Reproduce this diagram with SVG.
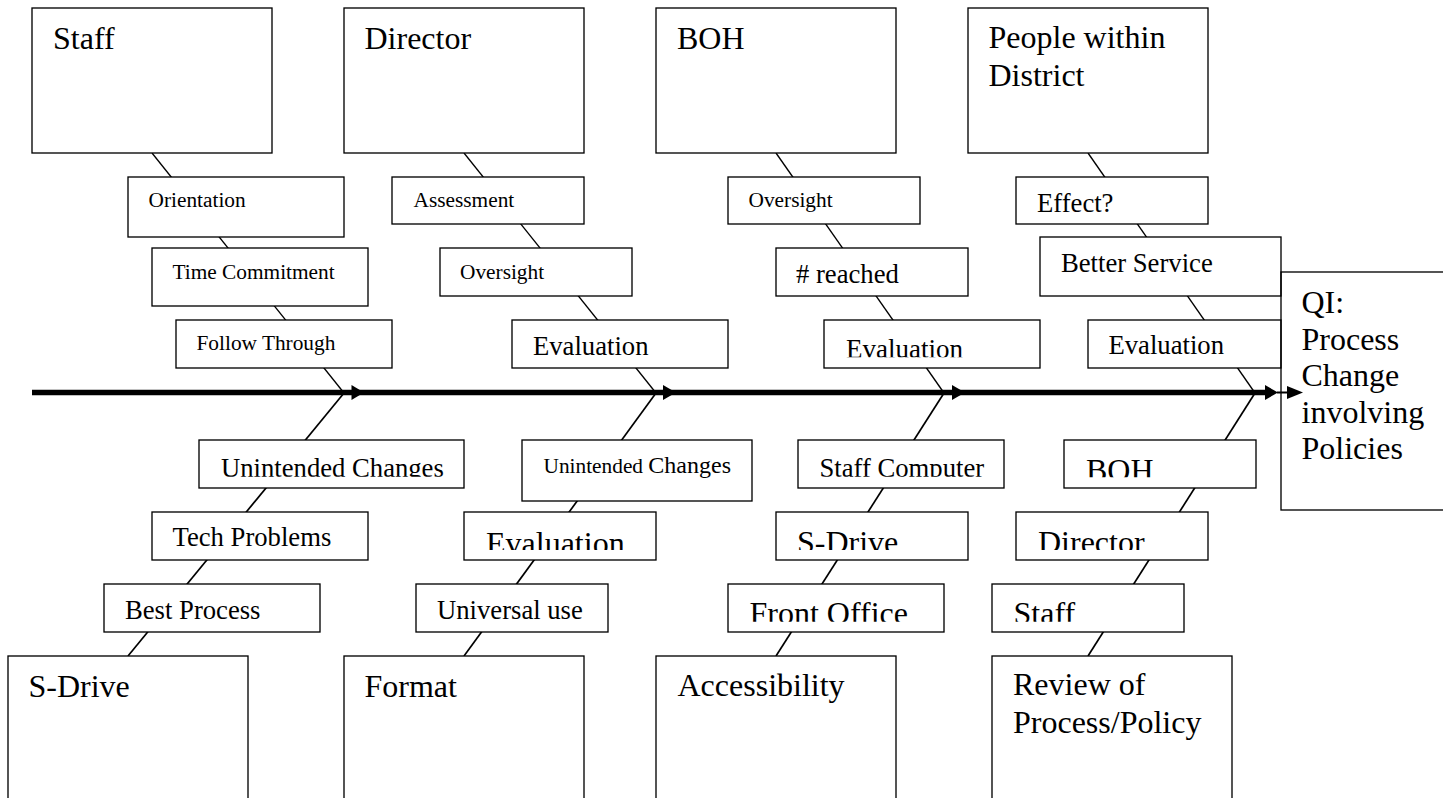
<svg xmlns="http://www.w3.org/2000/svg" width="1443" height="798" viewBox="0 0 1443 798">
<style>
.b{fill:#fff;stroke:#000;stroke-width:1.33}
.t{font-family:"Liberation Serif","Times New Roman",serif;fill:#000}
.s{font-size:21.33px}
.m{font-size:26.67px}
.l{font-size:32px}
.up{stroke:#000;stroke-width:1.33;fill:none}
.dn{stroke:#000;stroke-width:1.7;fill:none}
</style>
<defs>
<clipPath id="c1"><rect x="824" y="320" width="216" height="37.3"/></clipPath>
<clipPath id="c2"><rect x="199" y="440" width="265" height="36.7"/></clipPath>
<clipPath id="c3"><rect x="464" y="512" width="192" height="38"/></clipPath>
<clipPath id="c4"><rect x="798" y="440" width="206" height="36.7"/></clipPath>
<clipPath id="c5"><rect x="776" y="512" width="192" height="38"/></clipPath>
<clipPath id="c6"><rect x="728" y="584" width="216" height="37.7"/></clipPath>
<clipPath id="c7"><rect x="1064" y="440" width="192" height="37.3"/></clipPath>
<clipPath id="c8"><rect x="1016" y="512" width="192" height="38"/></clipPath>
<clipPath id="c9"><rect x="992" y="584" width="192" height="37.7"/></clipPath>
</defs>
<rect width="1443" height="798" fill="#fff"/>
<g id="connectors">
<line class="up" x1="152" y1="153" x2="344" y2="393"/>
<line class="up" x1="464" y1="153" x2="656" y2="393"/>
<line class="up" x1="776" y1="153" x2="944" y2="393"/>
<line class="up" x1="1088" y1="153" x2="1255" y2="393"/>
<line class="dn" x1="344" y1="393" x2="128" y2="656"/>
<line class="dn" x1="656" y1="393" x2="464" y2="656"/>
<line class="dn" x1="944" y1="393" x2="776" y2="656"/>
<line class="dn" x1="1255" y1="393" x2="1088" y2="656"/>
<line x1="32" y1="392.5" x2="1268" y2="392.5" stroke="#000" stroke-width="5.5"/>
<polygon points="351.5,385 364,392.5 351.5,400"/>
<polygon points="663,385 676,392.5 663,400"/>
<polygon points="952,385 965,392.5 952,400"/>
<polygon points="1265,385 1278,392.5 1265,400"/>
<line x1="1277" y1="392.5" x2="1290" y2="392.5" stroke="#000" stroke-width="2"/>
<polygon points="1287,386 1303,392.5 1287,399"/>
</g>
<g id="staff">
<rect class="b" x="32" y="8" width="240" height="145"/>
<text class="t l" x="53" y="49">Staff</text>
</g>
<g id="director">
<rect class="b" x="344" y="8" width="240" height="145"/>
<text class="t l" x="364.5" y="49">Director</text>
</g>
<g id="boh">
<rect class="b" x="656" y="8" width="240" height="145"/>
<text class="t l" x="677" y="49">BOH</text>
</g>
<g id="people">
<rect class="b" x="968" y="8" width="240" height="145"/>
<text class="t l" x="988.5" y="48">People within</text>
<text class="t l" x="988.5" y="86">District</text>
</g>
<g id="orientation">
<rect class="b" x="128" y="177" width="216" height="60"/>
<text class="t s" x="148.5" y="207">Orientation</text>
</g>
<g id="time-commitment">
<rect class="b" x="152" y="248" width="216" height="58"/>
<text class="t s" x="172.5" y="279">Time Commitment</text>
</g>
<g id="follow-through">
<rect class="b" x="176" y="320" width="216" height="48"/>
<text class="t s" x="196.5" y="350">Follow Through</text>
</g>
<g id="assessment">
<rect class="b" x="392" y="177" width="192" height="47"/>
<text class="t s" x="413.5" y="207">Assessment</text>
</g>
<g id="oversight-director">
<rect class="b" x="440" y="248" width="192" height="48"/>
<text class="t s" x="460" y="278.5">Oversight</text>
</g>
<g id="evaluation-director">
<rect class="b" x="512" y="320" width="216" height="48"/>
<text class="t m" x="533" y="355">Evaluation</text>
</g>
<g id="oversight-boh">
<rect class="b" x="728" y="177" width="192" height="47"/>
<text class="t s" x="748.5" y="207">Oversight</text>
</g>
<g id="reached">
<rect class="b" x="776" y="248" width="192" height="48"/>
<text class="t m" x="796" y="282.5"># reached</text>
</g>
<g id="evaluation-boh">
<rect class="b" x="824" y="320" width="216" height="48"/>
<text class="t" font-size="27" x="846" y="358" clip-path="url(#c1)">Evaluation</text>
</g>
<g id="effect">
<rect class="b" x="1016" y="177" width="192" height="47"/>
<text class="t m" x="1037" y="212">Effect?</text>
</g>
<g id="better-service">
<rect class="b" x="1040" y="237" width="241" height="59"/>
<text class="t m" x="1061" y="271.5">Better Service</text>
</g>
<g id="evaluation-people">
<rect class="b" x="1088" y="320" width="193" height="48"/>
<text class="t m" x="1108.5" y="354">Evaluation</text>
</g>
<g id="qi">
<rect x="1281" y="272" width="180" height="238" fill="none" stroke="#000" stroke-width="1.33"/>
<text class="t l" x="1301.5" y="313">QI:</text>
<text class="t l" x="1301.5" y="349.5">Process</text>
<text class="t l" x="1301.5" y="386">Change</text>
<text class="t l" x="1301.5" y="422.5">involving</text>
<text class="t l" x="1301.5" y="459">Policies</text>
</g>
<g id="unintended-changes-1">
<rect class="b" x="199" y="440" width="265" height="48"/>
<text class="t m" x="221" y="476.5" clip-path="url(#c2)">Unintended Changes</text>
</g>
<g id="tech-problems">
<rect class="b" x="152" y="512" width="216" height="48"/>
<text class="t m" x="172.5" y="545.5">Tech Problems</text>
</g>
<g id="best-process">
<rect class="b" x="104" y="584" width="216" height="48"/>
<text class="t m" x="125" y="618.5">Best Process</text>
</g>
<g id="unintended-changes-2">
<rect class="b" x="522" y="440" width="230" height="61"/>
<text class="t" x="543.5" y="472.5"><tspan font-size="21.33">Unintended </tspan><tspan font-size="24">Changes</tspan></text>
</g>
<g id="evaluation-lower">
<rect class="b" x="464" y="512" width="192" height="48"/>
<text class="t l" x="486" y="554" clip-path="url(#c3)">Evaluation</text>
</g>
<g id="universal-use">
<rect class="b" x="416" y="584" width="192" height="48"/>
<text class="t m" x="437" y="619">Universal use</text>
</g>
<g id="staff-computer">
<rect class="b" x="798" y="440" width="206" height="48"/>
<text class="t m" x="819.5" y="477" clip-path="url(#c4)">Staff Computer</text>
</g>
<g id="s-drive-small">
<rect class="b" x="776" y="512" width="192" height="48"/>
<text class="t l" x="797" y="553" clip-path="url(#c5)">S-Drive</text>
</g>
<g id="front-office">
<rect class="b" x="728" y="584" width="216" height="48"/>
<text class="t l" x="749.5" y="624" clip-path="url(#c6)">Front Office</text>
</g>
<g id="boh-lower">
<rect class="b" x="1064" y="440" width="192" height="48"/>
<text class="t l" x="1086" y="481" clip-path="url(#c7)">BOH</text>
</g>
<g id="director-lower">
<rect class="b" x="1016" y="512" width="192" height="48"/>
<text class="t l" x="1038" y="553" clip-path="url(#c8)">Director</text>
</g>
<g id="staff-lower">
<rect class="b" x="992" y="584" width="192" height="48"/>
<text class="t l" x="1013.5" y="624" clip-path="url(#c9)">Staff</text>
</g>
<g id="s-drive">
<rect class="b" x="8" y="656" width="240" height="160"/>
<text class="t l" x="28.5" y="696.5">S-Drive</text>
</g>
<g id="format">
<rect class="b" x="344" y="656" width="240" height="160"/>
<text class="t l" x="364.5" y="696.5">Format</text>
</g>
<g id="accessibility">
<rect class="b" x="656" y="656" width="240" height="160"/>
<text class="t l" x="677.5" y="696">Accessibility</text>
</g>
<g id="review">
<rect class="b" x="992" y="656" width="240" height="160"/>
<text class="t l" x="1013" y="695">Review of</text>
<text class="t l" x="1013" y="733">Process/Policy</text>
</g>
</svg>
